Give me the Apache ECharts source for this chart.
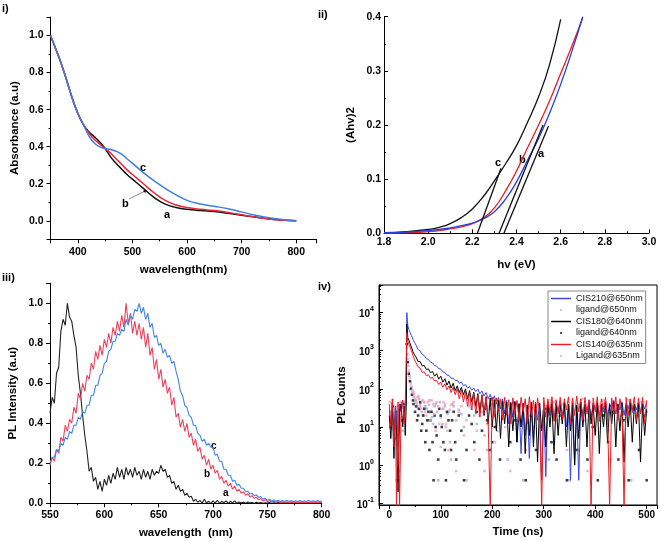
<!DOCTYPE html>
<html><head><meta charset="utf-8">
<script src="https://cdn.jsdelivr.net/npm/echarts@6/dist/echarts.min.js"></script>
<style>html,body{margin:0;padding:0;background:#fff}#c{width:661px;height:541px}</style>
</head><body><div id="c"></div>
<script>
// ---------- Panel i: absorbance ----------
const absWavelength = [350,360,370,380,390,400,410,420,430,440,450,460,470,480,490,500,520,540,560,580,600,625,650,675,700,725,750,775,800];
const absA = [1.0,0.925,0.845,0.755,0.66,0.58,0.52,0.48,0.455,0.425,0.39,0.345,0.31,0.28,0.25,0.225,0.175,0.125,0.09,0.072,0.062,0.055,0.05,0.04,0.03,0.02,0.01,0.004,0.0];
const absB = [1.0,0.925,0.845,0.755,0.66,0.58,0.52,0.475,0.44,0.415,0.39,0.365,0.335,0.305,0.275,0.25,0.20,0.15,0.11,0.085,0.072,0.062,0.055,0.045,0.032,0.02,0.01,0.003,0.0];
const absC = [1.0,0.925,0.845,0.755,0.66,0.58,0.52,0.46,0.42,0.40,0.39,0.385,0.375,0.36,0.335,0.31,0.26,0.215,0.175,0.14,0.11,0.09,0.078,0.065,0.048,0.03,0.017,0.007,0.0];

// ---------- Panel ii: Tauc plot ----------
const taucHv = [1.8,1.9,2.0,2.05,2.1,2.15,2.2,2.25,2.3,2.35,2.4,2.45,2.5,2.55,2.6,2.65,2.7];
const taucC = [0.001,0.003,0.007,0.011,0.018,0.029,0.045,0.068,0.097,0.128,0.162,0.205,0.252,0.312,0.395,null,null];
const taucB = [0.0005,0.001,0.003,0.005,0.008,0.012,0.018,0.028,0.047,0.078,0.115,0.158,0.20,0.245,0.295,0.345,0.398];
const taucA = [0.001,0.002,0.005,0.007,0.01,0.014,0.019,0.027,0.04,0.063,0.095,0.135,0.175,0.222,0.275,0.335,0.40];
const tangentC = [[2.223,0],[2.33,0.12]];
const tangentB = [[2.321,0],[2.52,0.20]];
const tangentA = [[2.343,0],[2.545,0.198]];

// ---------- Panel iii: PL spectra ----------
const plWavelength = [
550,552,554,556,558,560,562,564,566,568,570,572,574,576,578,580,582,584,586,588,
590,592,594,596,598,600,602,604,606,608,610,612,614,616,618,620,622,624,626,628,
630,632,634,636,638,640,642,644,646,648,650,652,654,656,658,660,662,664,666,668,
670,672,674,676,678,680,682,684,686,688,690,692,694,696,698,700,702,704,706,708,
710,712,714,716,718,720,722,724,726,728,730,732,734,736,738,740,742,744,746,748,
750,752,754,756,758,760,762,764,766,768,770,772,774,776,778,780,782,784,786,788,
790,792,794,796,798,800];
const plA = [
0.45,0.53,0.50,0.65,0.68,0.86,0.92,0.89,1.00,0.93, 0.91,0.84,0.78,0.64,0.55,0.44,0.34,0.26,0.16,0.18,
0.11,0.13,0.07,0.11,0.06,0.12,0.09,0.14,0.10,0.15, 0.12,0.18,0.13,0.17,0.12,0.18,0.14,0.17,0.13,0.18,
0.14,0.16,0.12,0.17,0.13,0.16,0.12,0.17,0.14,0.16, 0.15,0.19,0.16,0.17,0.13,0.14,0.10,0.11,0.07,0.09,
0.06,0.07,0.04,0.05,0.03,0.035,0.01,0.02,0.005,0.015, 0.0,0.02,0.003,0.01,0.0,0.012,0.002,0.015,0.0,0.01,
0.003,0.012,0.0,0.01,0.002,0.012,0.0,0.006,0.002,0.005, 0.0,0.006,0.002,0.004,0.0,0.005,0.001,0.004,0.0,0.003,
0.001,0.004,0.0,0.003,0.001,0.004,0.0,0.003,0.001,0.003, 0.0,0.003,0.001,0.003,0.0,0.002,0.001,0.003,0.0,0.002,
0.001,0.002,0.0,0.002,0.001,0.002];
const plB = [
0.20,0.23,0.21,0.27,0.25,0.33,0.31,0.39,0.36,0.42, 0.40,0.48,0.45,0.55,0.52,0.60,0.56,0.64,0.62,0.70,
0.67,0.76,0.72,0.79,0.74,0.82,0.78,0.85,0.80,0.88, 0.84,0.91,0.86,0.94,0.88,1.00,0.90,0.95,0.85,0.91,
0.84,0.90,0.82,0.88,0.78,0.85,0.74,0.78,0.67,0.72, 0.62,0.67,0.58,0.62,0.55,0.58,0.49,0.53,0.43,0.45,
0.38,0.42,0.36,0.40,0.33,0.35,0.29,0.32,0.26,0.28, 0.22,0.24,0.19,0.22,0.17,0.19,0.15,0.165,0.12,0.135,
0.10,0.115,0.085,0.10,0.07,0.085,0.06,0.07,0.05,0.058, 0.04,0.048,0.032,0.038,0.025,0.03,0.018,0.024,0.012,0.018,
0.008,0.013,0.006,0.01,0.005,0.009,0.004,0.008,0.004,0.007, 0.004,0.007,0.003,0.006,0.004,0.007,0.003,0.006,0.004,0.006,
0.003,0.006,0.004,0.006,0.003,0.005];
const plC = [
0.19,0.23,0.23,0.27,0.26,0.30,0.29,0.33,0.32,0.36, 0.35,0.39,0.39,0.43,0.42,0.46,0.45,0.49,0.49,0.54,
0.54,0.59,0.59,0.64,0.65,0.70,0.71,0.76,0.77,0.81, 0.81,0.85,0.84,0.87,0.86,0.92,0.89,0.94,0.92,0.97,
0.96,1.00,0.95,0.98,0.92,0.95,0.88,0.90,0.83,0.84, 0.79,0.80,0.75,0.77,0.73,0.74,0.70,0.71,0.66,0.62,
0.56,0.54,0.49,0.48,0.44,0.43,0.39,0.39,0.35,0.34, 0.31,0.32,0.29,0.30,0.28,0.28,0.24,0.245,0.21,0.21,
0.17,0.17,0.14,0.14,0.11,0.115,0.09,0.095,0.075,0.075, 0.058,0.06,0.046,0.05,0.038,0.042,0.03,0.034,0.02,0.025,
0.015,0.02,0.012,0.017,0.01,0.015,0.009,0.014,0.009,0.014, 0.009,0.014,0.008,0.013,0.009,0.014,0.008,0.013,0.009,0.014,
0.009,0.013,0.008,0.014,0.009,0.012];

// ---------- Panel iv: PL decay ----------
const decayTime = [0,3,6,9,12,14,17,20,23,26,29,31,33,34,36,38,40,43,46,49,
52,56,60,64,68,72,76,80,84,88, 92,96,100,104,108,112,116,120,124,128,
132,136,140,144,148,152,156,160,164,168, 172,176,180,184,188,192,196,200,204,208,
212,216,220,224,228,232,236,240,244,248, 252,256,260,264,268,272,276,280,284,288,
292,296,300,304,308,312,316,320,324,328, 332,336,340,344,348,352,356,360,364,368,
372,376,380,384,388,392,396,400,404,408, 412,416,420,424,428,432,436,440,444,448,
452,456,460,464,468,472,476,480,484,488, 492,496,500];
const cis210 = [30,12,45,8,35,20,3,40,25,50,15,40,60,10000,4500,3600,3200,2500,2000,1650,
1400,1080,980,800,740,620,590,500,480,410, 395,340,330,280,265,230,225,190,190,165,
168,140,150,120,130,105,115,92,105,85, 98,75,88,65,80,55,72,48,66,40,
60,30,55,22,50,12,45,18,48,4, 42,2,40,6,38,1.5,36,5,45,15,
40,0.4,42,0.5,38,20,45,15,40,25, 48,18,42,10,38,0.4,40,1,35,0.4,
45,20,40,25,50,18,42,28,46,20, 40,25,48,18,42,30,50,22,40,28,
46,20,42,30,48,24,40,28,45,22, 42,30,45];
const cis180 = [20,5,35,1.5,30,8,0.2,25,40,10,35,6,40,5000,2200,1900,1600,1250,950,780,
680,520,520,400,410,320,335,265,285,215, 250,180,215,150,185,125,160,105,140,90,
120,80,110,70,100,55,90,45,82,35, 75,25,70,20,62,12,58,10,52,8,
50,5,48,12,45,3,42,8,45,4, 40,10,42,2,38,6,44,3,40,1.2,
42,8,38,3,45,10,40,2,42,6, 38,12,44,3,40,8,42,1,38,5,
44,10,40,3,42,12,38,6,44,2, 40,10,42,4,38,12,45,3,40,8,
42,1.2,38,10,44,4,40,12,42,1.2, 40,6,30];
const cis140 = [40,10,55,3,30,0.08,45,0.08,35,50,12,45,50,3000,1800,1500,1400,1000,750,580,
480,380,350,270,280,220,235,190,200,160, 165,130,150,110,135,95,120,80,110,70,
100,55,95,45,85,35,80,28,75,22, 70,18,68,22,62,15,0.08,60,18,58,
25,55,15,60,20,52,12,58,22,50, 15,60,25,55,12,62,20,50,15,58,
25,0.08,60,18,55,25,62,14,52,22, 60,16,55,28,62,12,58,20,65,25,
55,15,60,22,52,0.08,58,25,62,14, 55,28,60,18,0.08,58,22,62,15,55,
25,0.08,60,20,55,28,62,15,58,22, 60,12,50];
const ligand650 = [[2,25],[5,40],[8,12],[11,30],[14,0.4],[18,20],[22,45],[26,8],[30,30],[34,2000],[35,800],[37,400],[39,220],[41,150],[43,110],[45,80],[46,70],[48,60],[50,50],[52,45],[54,35],[56,30],[58,55],[60,40],[63,25],[65,20],[68,45],[70,35],[73,30],[75,15],[78,50],[80,25],[83,18],[85,12],[88,35],[90,40],[93,25],[95,0.4],[98,45],[100,18],[103,12],[105,30],[108,35],[110,10],[113,22],[115,25],[118,4],[120,1.4],[123,40],[125,35],[130,15],[135,28],[140,22],[145,10],[150,0.4],[155,35],[160,30],[165,20],[170,12],[175,40],[180,25],[185,6],[190,2.5],[195,30],[200,40],[210,8],[220,30],[230,1.4],[240,45],[250,15],[260,0.4],[270,35],[280,10],[290,40],[300,25],[310,1.4],[320,45],[330,20],[340,35],[350,0.4],[360,28],[370,40],[380,15],[390,45],[400,8],[410,35],[420,25],[430,1.4],[440,40],[450,20],[460,35],[470,0.4],[480,30],[490,45],[500,25]];
const ligand640 = [[3,10],[7,35],[10,5],[13,25],[17,0.4],[21,30],[25,15],[29,40],[34,1500],[36,500],[38,250],[40,160],[42,100],[44,70],[46,50],[47,40],[50,25],[52,35],[54,15],[56,20],[58,30],[60,45],[62,8],[64,12],[66,20],[68,30],[70,4],[72,8],[74,15],[76,25],[78,2.5],[80,15],[82,25],[84,4],[86,0.4],[88,20],[90,10],[92,6],[95,1.4],[97,30],[100,20],[102,10],[105,4],[108,2.5],[110,0.4],[112,25],[115,15],[118,8],[120,2.5],[122,15],[125,25],[128,4],[130,1.4],[135,20],[140,8],[145,0.4],[150,2.5],[155,20],[160,12],[165,4],[170,25],[175,1.4],[180,8],[185,30],[190,15],[195,2.5],[200,4],[205,10],[215,1.4],[225,25],[235,4],[245,15],[255,1.4],[265,0.4],[275,20],[285,2.5],[295,10],[305,30],[315,4],[325,1.4],[335,20],[345,0.4],[355,15],[365,2.5],[375,25],[385,1.4],[395,10],[405,0.4],[415,20],[425,4],[435,25],[445,1.4],[455,15],[465,0.4],[475,30],[485,2.5],[495,20],[500,0.4]];
const ligand635 = [[1,45],[4,20],[7,50],[11,15],[15,35],[19,0.7],[23,40],[27,18],[31,45],[34,1200],[36,600],[38,300],[40,200],[42,130],[45,90],[47,80],[48,70],[50,55],[52,50],[53,40],[55,60],[57,65],[60,35],[62,30],[65,50],[67,45],[70,25],[72,20],[75,45],[77,38],[80,15],[82,50],[85,40],[87,22],[90,8],[92,45],[95,35],[97,12],[100,3],[102,30],[105,45],[108,40],[110,12],[113,8],[115,2.5],[118,28],[120,38],[125,45],[130,0.7],[135,25],[140,35],[145,6],[150,15],[155,40],[160,42],[165,2.5],[170,8],[175,20],[180,35],[185,0.7],[190,12],[195,35],[200,50],[205,4],[215,45],[225,10],[235,0.7],[245,40],[255,15],[265,2.5],[275,45],[285,25],[295,0.7],[305,35],[315,50],[325,15],[335,40],[345,2.5],[355,45],[365,20],[375,55],[385,0.7],[395,40],[405,25],[415,50],[425,8],[435,45],[445,30],[455,2.5],[465,50],[475,35],[485,20],[495,45]];
const legendNames = ['CIS210@650nm','ligand@650nm','CIS180@640nm','ligand@640nm','CIS140@635nm','Ligand@635nm'];

const FONT = '"Liberation Sans", Arial, sans-serif';
const zip = (xs, ys) => xs.map((x, i) => [x, ys[i]]);

function axis(o) {
  const inside = !!o.inside;
  return Object.assign({
    type: 'value', nameLocation: 'middle',
    nameTextStyle: { fontSize: 11.5, fontWeight: 'bold', color: '#000', fontFamily: FONT },
    axisLine: { show: true, onZero: false, lineStyle: { color: '#000', width: 1 } },
    axisTick: { show: true, inside: inside, length: 4, lineStyle: { color: '#000', width: 1 } },
    minorTick: { show: true, splitNumber: 2, length: 2, lineStyle: { color: '#000', width: 1 } },
    splitLine: { show: false },
    axisLabel: Object.assign({ color: '#000', fontSize: 10.5, fontWeight: 'bold', fontFamily: FONT, margin: 7 }, o.label || {})
  }, o.extra);
}
const f1 = v => v.toFixed(1);

const lineS = (name, xi, data, color, w, smooth) => ({
  name, type: 'line', xAxisIndex: xi, yAxisIndex: xi, data, showSymbol: false, symbol: 'none',
  smooth: !!smooth, lineStyle: { color, width: w }, itemStyle: { color }, animation: false, silent: true
});
const dotS = (name, data, color) => ({
  name, type: 'scatter', xAxisIndex: 3, yAxisIndex: 3, data, symbol: 'rect', symbolSize: 2.6,
  itemStyle: { color }, animation: false, silent: true
});

const txt = (x, y, t, size) => ({ type: 'text', left: x, top: y, silent: true,
  style: { text: t, fill: '#000', font: 'bold ' + (size || 11) + 'px ' + FONT } });

const DOT_ICON = 'path://M0,0M22,8M10,3L12,3L12,5L10,5Z';
const LINE_ICON = 'path://M0,0M22,8M0,3.2L22,3.2L22,4.8L0,4.8Z';

const option = {
  animation: false,
  backgroundColor: '#fff',
  grid: [
    { left: 50.5, top: 17, width: 266, height: 222.3, outerBoundsMode: 'none' },
    { left: 384, top: 16.7, width: 265, height: 216.6, outerBoundsMode: 'none' },
    { left: 50, top: 283.3, width: 271.7, height: 220, outerBoundsMode: 'none' },
    { left: 379, top: 285, width: 278, height: 220, show: true, borderColor: '#000', borderWidth: 1, outerBoundsMode: 'none' }
  ],
  xAxis: [
    axis({ extra: { gridIndex: 0, min: 350, max: 837, name: 'wavelength(nm)', nameGap: 25 },
      label: { showMinLabel: false, showMaxLabel: false, margin: 7 } }),
    axis({ inside: true, extra: { gridIndex: 1, min: 1.8, max: 3.0, interval: 0.2, name: 'hv (eV)', nameGap: 26 },
      label: { formatter: f1, margin: 3 } }),
    axis({ extra: { gridIndex: 2, min: 550, max: 800, interval: 50, name: 'wavelength  (nm)', nameGap: 24 },
      label: { margin: 6 } }),
    axis({ extra: { gridIndex: 3, min: -20, max: 520, name: 'Time (ns)', nameGap: 21 },
      label: { showMinLabel: false, showMaxLabel: false, margin: 5, fontSize: 10 } })
  ],
  yAxis: [
    axis({ extra: { gridIndex: 0, min: -0.1, max: 1.1, name: 'Absorbance (a.u)', nameGap: 30 },
      label: { formatter: f1, showMinLabel: false, showMaxLabel: false } }),
    axis({ inside: true, extra: { gridIndex: 1, min: 0, max: 0.4, interval: 0.1, name: '(Ahv)2', nameGap: 27 },
      label: { formatter: f1, margin: 3 } }),
    axis({ extra: { gridIndex: 2, min: 0, max: 1.1, name: 'PL Intensity (a.u)', nameGap: 31 },
      label: { formatter: f1, showMaxLabel: false } }),
    axis({ inside: true, extra: { gridIndex: 3, type: 'log', logBase: 10, min: 0.09, max: 53000, name: 'PL Counts', nameGap: 31,
        minorTick: { show: true, splitNumber: 9, length: 2, lineStyle: { color: '#000', width: 1 } } },
      label: { showMinLabel: false, showMaxLabel: false, margin: 5,
        formatter: v => '{b|10}{s|' + Math.round(Math.log10(v)) + '}',
        rich: { b: { fontSize: 10, fontWeight: 'bold', fontFamily: FONT, color: '#000', lineHeight: 14, verticalAlign: 'bottom' },
                s: { fontSize: 7, fontWeight: 'bold', fontFamily: FONT, color: '#000', lineHeight: 6, verticalAlign: 'top' } } } })
  ],
  legend: {
    data: [
      { name: legendNames[0], icon: LINE_ICON },
      { name: legendNames[1], icon: DOT_ICON },
      { name: legendNames[2], icon: LINE_ICON },
      { name: legendNames[3], icon: DOT_ICON },
      { name: legendNames[4], icon: LINE_ICON },
      { name: legendNames[5], icon: DOT_ICON }
    ],
    orient: 'vertical', left: 548, top: 291, itemWidth: 20, itemHeight: 8, itemGap: 0.5,
    padding: [2, 3, 2, 3], borderColor: '#888', borderWidth: 1, backgroundColor: '#fff',
    selectedMode: false, textStyle: { fontSize: 9, color: '#111', fontFamily: FONT, lineHeight: 11 }, z: 10
  },
  series: [
    lineS('a', 0, zip(absWavelength, absA), '#111', 1.5, true),
    lineS('b', 0, zip(absWavelength, absB), '#e8283c', 1.5, true),
    lineS('c', 0, zip(absWavelength, absC), '#3d7fe0', 1.5, true),
    lineS('c', 1, zip(taucHv, taucC), '#111', 1.3, true),
    lineS('b', 1, zip(taucHv, taucB), '#e82020', 1.3, true),
    lineS('a', 1, zip(taucHv, taucA), '#2a3ee0', 1.3, true),
    lineS('tc', 1, tangentC, '#111', 1.3),
    lineS('tb', 1, tangentB, '#111', 1.3),
    lineS('ta', 1, tangentA, '#111', 1.3),
    lineS('a', 2, zip(plWavelength, plA), '#222', 1.1),
    lineS('b', 2, zip(plWavelength, plB), '#f0405e', 1.1),
    lineS('c', 2, zip(plWavelength, plC), '#3f86e6', 1.1),
    lineS(legendNames[0], 3, zip(decayTime, cis210), '#3a46e6', 1),
    lineS(legendNames[2], 3, zip(decayTime, cis180), '#000', 1),
    lineS(legendNames[4], 3, zip(decayTime, cis140), '#ee1c24', 1),
    dotS(legendNames[1], ligand650, '#a4aeea'),
    dotS(legendNames[3], ligand640, '#111'),
    dotS(legendNames[5], ligand635, '#f5a3b8')
  ],
  graphic: [
    txt(2, 3, 'i)', 11), txt(318, 9, 'ii)', 11), txt(2, 272, 'iii)', 11), txt(318, 281, 'iv)', 11),
    txt(140, 162, 'c'), txt(122, 198, 'b'), txt(164, 209, 'a'),
    { type: 'line', silent: true, shape: { x1: 129, y1: 199, x2: 145, y2: 191 }, style: { stroke: '#888', lineWidth: 1 } },
    { type: 'circle', silent: true, shape: { cx: 145, cy: 191, r: 1.6 }, style: { fill: '#222' } },
    txt(495, 157, 'c'), txt(519, 154, 'b'), txt(538, 148, 'a'),
    txt(211, 441, 'c', 10), txt(204, 469, 'b', 10), txt(223, 488, 'a', 10)
  ]
};
const chart = echarts.init(document.getElementById('c'), null, { renderer: 'canvas' });
chart.setOption(option);
</script></body></html>
